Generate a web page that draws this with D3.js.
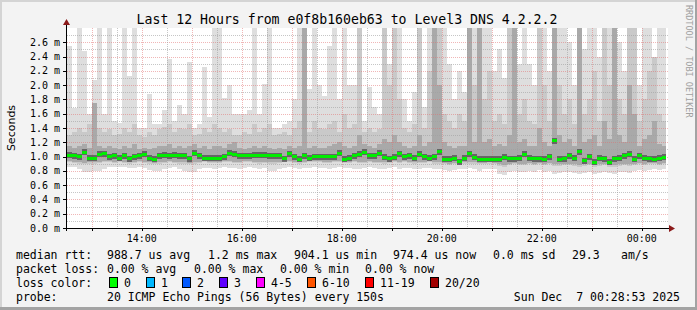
<!DOCTYPE html>
<html><head><meta charset="utf-8">
<script src="https://cdn.jsdelivr.net/npm/d3@7"></script>
<style>html,body{margin:0;padding:0;background:#f3f3f3;}svg{display:block;}</style>
</head><body><svg id="c" width="697" height="310"></svg>
<script>
const titleText = "Last 12 Hours from e0f8b160eb63 to Level3 DNS 4.2.2.2";
const yLabel = "Seconds";
const credit = "RRDTOOL / TOBI OETIKER";
const slotMinutes = 6;
const startTime = new Date(2025, 11, 6, 12, 30, 0);
const endTime = new Date(2025, 11, 7, 0, 30, 0);
const nowTime = new Date(2025, 11, 7, 0, 28, 53);

// median rtt (ms) per 6-minute slot
const med = [
1.02,1.01,1.00,1.06,0.98,0.98,1.03,1.04,1.00,1.01,
0.98,1.01,0.97,1.00,1.01,1.03,0.98,0.96,1.01,1.02,
1.01,1.02,1.01,1.01,0.97,1.05,1.01,0.98,0.98,0.98,
0.98,1.00,1.05,1.03,1.01,1.01,1.01,1.02,1.02,1.02,
1.01,1.01,1.01,0.97,1.04,1.00,0.96,1.01,0.98,1.00,
1.00,1.00,1.00,1.00,1.05,0.96,0.98,1.01,1.03,1.06,
1.01,1.01,1.05,0.99,0.97,0.99,1.04,1.00,1.01,0.98,
1.03,1.00,0.98,1.00,1.07,0.96,0.96,0.98,0.93,0.98,
1.04,0.99,0.96,0.96,0.96,0.96,0.96,0.99,0.97,0.97,
0.98,1.03,0.98,0.97,0.97,0.96,1.00,1.22,0.96,0.97,
1.01,0.98,1.07,0.94,1.00,0.92,0.98,0.97,0.92,0.97,
0.98,1.01,1.03,0.96,1.01,0.98,0.97,0.96,0.98,0.99];

// top of lightest smoke (max ping)
const maxv = [
2.55,1.68,2.80,2.48,1.60,2.07,2.80,1.60,2.80,1.50,
1.47,2.80,2.13,2.80,1.40,1.40,1.87,1.45,1.45,1.65,
2.37,1.50,1.72,1.60,2.32,1.40,1.45,2.25,1.55,2.80,
2.80,1.82,2.00,1.60,1.60,1.60,1.65,2.80,1.60,2.02,
2.80,1.40,1.40,1.45,1.50,1.80,2.80,2.80,1.95,2.80,
2.00,1.85,2.55,2.80,1.80,2.80,2.00,2.00,2.80,1.50,
1.97,1.70,1.60,2.20,2.30,2.80,2.80,1.80,1.50,1.90,
2.80,1.70,2.80,2.80,2.80,2.80,2.30,1.80,2.20,1.90,
2.80,2.80,2.80,2.80,2.80,2.20,2.50,2.10,2.80,2.80,
2.30,2.80,2.30,2.00,2.80,2.80,2.20,2.80,2.80,2.80,
2.60,2.00,2.80,2.50,2.80,2.80,2.40,2.80,2.80,2.80,
2.60,2.20,2.80,2.80,2.00,2.80,2.80,1.80,2.80,2.80];

// top of medium smoke
const midv = [
1.30,1.35,1.40,1.35,1.45,1.75,1.40,1.35,1.38,1.30,
1.32,1.40,1.35,1.45,1.30,1.28,1.35,1.30,1.38,1.42,
1.45,1.35,1.40,1.38,1.45,1.30,1.32,1.40,1.35,1.45,
1.40,1.35,1.38,1.30,1.30,1.35,1.32,1.45,1.35,1.40,
1.45,1.30,1.32,1.35,1.30,1.40,1.50,2.80,1.35,1.50,
1.40,1.38,1.45,1.50,1.35,1.60,1.40,1.45,2.80,1.35,
1.40,1.35,1.38,2.80,2.00,2.80,1.80,1.40,1.35,1.45,
2.80,1.40,2.20,2.80,2.80,1.60,1.50,1.40,1.60,1.50,
2.80,2.00,2.80,1.80,2.20,1.50,1.60,1.45,2.80,2.80,
1.60,1.80,1.50,1.45,2.80,2.00,1.50,2.80,2.00,1.60,
1.80,1.45,2.80,1.60,1.80,2.20,1.50,2.80,2.00,2.80,
1.80,1.60,2.80,2.80,1.50,1.80,2.20,2.40,1.60,1.50];

// top of dark smoke
const darkv = [
1.15,1.12,1.15,1.18,1.12,1.75,1.15,1.12,1.15,1.12,
1.10,1.15,1.12,1.18,1.10,1.12,1.10,1.12,1.15,1.15,
1.18,1.12,1.15,1.12,1.15,1.18,1.12,1.15,1.10,1.15,
1.15,1.12,1.18,1.20,1.12,1.10,1.12,1.15,1.12,1.15,
1.12,1.10,1.12,1.10,1.15,1.12,1.15,2.80,1.12,1.15,
1.12,1.12,1.15,1.18,1.20,1.15,1.12,1.15,1.30,1.18,
1.15,1.12,1.18,1.25,1.20,1.30,1.20,1.15,1.12,1.15,
1.30,1.15,1.20,2.80,2.00,1.20,1.15,1.12,1.15,1.15,
2.80,1.20,2.80,1.20,1.25,1.15,1.18,1.15,1.30,2.80,
1.20,1.25,1.15,1.15,1.40,1.20,1.15,2.80,1.30,1.20,
1.25,1.15,2.80,1.20,1.25,1.30,1.15,1.50,1.25,2.80,
1.30,1.20,2.00,1.60,1.15,1.25,1.30,1.50,1.18,1.15];

// bottom of lightest smoke (min ping)
const minv = [
0.86,0.85,0.82,0.79,0.79,0.80,0.80,0.83,0.85,0.85,
0.86,0.85,0.84,0.84,0.85,0.84,0.81,0.80,0.80,0.82,
0.84,0.85,0.83,0.80,0.79,0.79,0.82,0.84,0.84,0.83,
0.84,0.85,0.84,0.84,0.83,0.84,0.85,0.84,0.82,0.84,
0.80,0.80,0.83,0.84,0.85,0.84,0.83,0.84,0.84,0.85,
0.84,0.84,0.83,0.84,0.85,0.84,0.84,0.83,0.82,0.84,
0.85,0.84,0.82,0.82,0.84,0.85,0.83,0.84,0.84,0.82,
0.83,0.84,0.84,0.82,0.82,0.81,0.80,0.81,0.82,0.83,
0.84,0.82,0.80,0.82,0.83,0.82,0.76,0.74,0.78,0.80,
0.79,0.78,0.80,0.79,0.81,0.78,0.80,0.76,0.77,0.79,
0.78,0.77,0.76,0.77,0.78,0.76,0.77,0.78,0.77,0.76,
0.78,0.79,0.77,0.80,0.81,0.80,0.81,0.82,0.81,0.82];

// bottom of inner smoke
const lowv = [
0.92,0.91,0.90,0.89,0.90,0.90,0.91,0.92,0.92,0.91,
0.92,0.91,0.90,0.91,0.92,0.91,0.90,0.89,0.90,0.91,
0.92,0.91,0.90,0.90,0.89,0.90,0.91,0.92,0.91,0.91,
0.91,0.92,0.92,0.91,0.91,0.92,0.92,0.91,0.90,0.91,
0.90,0.90,0.91,0.92,0.92,0.91,0.90,0.91,0.92,0.92,
0.92,0.91,0.91,0.92,0.92,0.91,0.91,0.92,0.91,0.91,
0.92,0.91,0.91,0.90,0.91,0.92,0.91,0.92,0.91,0.90,
0.91,0.91,0.92,0.90,0.90,0.89,0.88,0.89,0.88,0.90,
0.90,0.90,0.89,0.89,0.90,0.89,0.87,0.86,0.88,0.89,
0.88,0.88,0.89,0.88,0.89,0.88,0.89,0.87,0.87,0.88,
0.88,0.87,0.86,0.87,0.88,0.86,0.87,0.88,0.86,0.86,
0.87,0.88,0.87,0.88,0.89,0.88,0.89,0.89,0.88,0.89];

const yTicks = [0.0,0.2,0.4,0.6,0.8,1.0,1.2,1.4,1.6,1.8,2.0,2.2,2.4,2.6];
const yTickLabels = ["0.0 m","0.2 m","0.4 m","0.6 m","0.8 m","1.0 m","1.2 m","1.4 m","1.6 m","1.8 m","2.0 m","2.2 m","2.4 m","2.6 m"];
const yMinor = [0.1,0.3,0.5,0.7,0.9,1.1,1.3,1.5,1.7,1.9,2.1,2.3,2.5,2.7];
const xTickLabels = ["14:00","16:00","18:00","20:00","22:00","00:00"];
const xTickTimes = [new Date(2025,11,6,14),new Date(2025,11,6,16),new Date(2025,11,6,18),new Date(2025,11,6,20),new Date(2025,11,6,22),new Date(2025,11,7,0)];

const rttHead = "median rtt:";
const rttItems = ["988.7 us avg","1.2 ms max","904.1 us min","974.4 us now","0.0 ms sd","29.3","am/s"];
const lossHead = "packet loss:";
const lossItems = ["0.00 % avg","0.00 % max","0.00 % min","0.00 % now"];
const colorHead = "loss color:";
const lossLabels = ["0","1","2","3","4-5","6-10","11-19","20/20"];
const lossColors = ["#00ff00","#00b8ff","#0059ff","#5e00ff","#ff00ff","#ff5500","#ff0000","#a10000"];
const probeHead = "probe:";
const probeText = "20 ICMP Echo Pings (56 Bytes) every 150s";
const dateText = "Sun Dec  7 00:28:53 2025";

const svg = d3.select("#c");
const W = 697, H = 310;
const L = 67, R = 668, T = 28, B = 228;
const mono = "'DejaVu Sans Mono', monospace";

svg.append("rect").attr("width", W).attr("height", H).attr("fill", "#f3f3f3");
svg.append("rect").attr("x",0).attr("y",0).attr("width",W).attr("height",2).attr("fill","#d4d4d4");
svg.append("rect").attr("x",0).attr("y",0).attr("width",2).attr("height",H).attr("fill","#d4d4d4");
svg.append("rect").attr("x",W-2).attr("y",0).attr("width",2).attr("height",H).attr("fill","#a3a3a3");
svg.append("rect").attr("x",0).attr("y",H-3).attr("width",W).attr("height",3).attr("fill","#a3a3a3");

const x = d3.scaleTime().domain([startTime, endTime]).range([66.7, 666.7]);
const y = d3.scaleLinear().domain([0, 2.8]).range([B, T]);

svg.append("rect").attr("x", L).attr("y", T).attr("width", R - L).attr("height", B - T).attr("fill", "#ffffff");

const slots = med.map((m, i) => {
  const t0 = d3.timeMinute.offset(startTime, i * slotMinutes);
  let t1 = d3.timeMinute.offset(startTime, (i + 1) * slotMinutes);
  if (t1 > nowTime) t1 = nowTime;
  return {i, t0, t1, med: m, max: maxv[i], mid: midv[i], dark: darkv[i], min: minv[i], low: lowv[i]};
});
const clampY = v => y(Math.min(v, 2.8));
const gSmoke = svg.append("g").attr("shape-rendering", "crispEdges");
function band(lo, hi, color) {
  gSmoke.append("g").selectAll("rect").data(slots).join("rect")
    .attr("x", d => x(d.t0))
    .attr("width", d => x(d.t1) - x(d.t0))
    .attr("y", d => clampY(hi(d)))
    .attr("height", d => Math.max(0, clampY(lo(d)) - clampY(hi(d))))
    .attr("fill", color);
}
band(d => d.min, d => d.max, "#dedede");
band(d => d.low, d => d.mid, "#c9c9c9");
band(d => d.low + 0.02, d => d.dark, "#a9a9a9");

// grid
const gGrid = svg.append("g");
const px = v => Math.round(v) + 0.5;
const minorCol = "rgba(160,160,160,0.6)";
const majorCol = "rgba(225,110,110,0.5)";
gGrid.selectAll("line.hm").data(yMinor).join("line")
  .attr("x1", L).attr("x2", R).attr("y1", d => px(y(d))).attr("y2", d => px(y(d)))
  .attr("stroke", minorCol).attr("stroke-dasharray", "1,1");
gGrid.selectAll("line.hM").data(yTicks.slice(1)).join("line")
  .attr("x1", L).attr("x2", R).attr("y1", d => px(y(d))).attr("y2", d => px(y(d)))
  .attr("stroke", majorCol).attr("stroke-dasharray", "1,1");
const halfHours = d3.timeMinute.every(30).range(d3.timeMinute.offset(startTime, 1), endTime);
gGrid.selectAll("line.v").data(halfHours).join("line")
  .attr("x1", d => px(x(d))).attr("x2", d => px(x(d))).attr("y1", T).attr("y2", B)
  .attr("stroke", d => d.getMinutes() === 0 ? majorCol : minorCol)
  .attr("stroke-dasharray", "1,1");

// median
const gMed = svg.append("g").attr("shape-rendering", "crispEdges");
gMed.selectAll("rect.h").data(slots).join("rect")
  .attr("x", d => x(d.t0)).attr("width", d => x(d.t1) - x(d.t0))
  .attr("y", d => y(d.med) - 3).attr("height", 6).attr("fill", "#4a4a4a").attr("opacity", 0.7);
gMed.selectAll("rect.g").data(slots).join("rect")
  .attr("x", d => x(d.t0)).attr("width", d => x(d.t1) - x(d.t0))
  .attr("y", d => y(d.med) - 1.5).attr("height", 3).attr("fill", "#00ee00");

// axes
const gAx = svg.append("g");
gAx.append("line").attr("x1", 63).attr("x2", 669).attr("y1", B + 0.5).attr("y2", B + 0.5).attr("stroke", "#000");
gAx.append("line").attr("x1", L - 0.5).attr("x2", L - 0.5).attr("y1", 24).attr("y2", B + 3).attr("stroke", "#000");
gAx.append("path").attr("d", `M669,${B-3}L675,${B+0.5}L669,${B+4}Z`).attr("fill", "#8b1a1a");
gAx.append("path").attr("d", `M${L-4},25L${L-0.5},19L${L+3},25Z`).attr("fill", "#8b1a1a");
gAx.selectAll("line.yt").data(yTicks.slice(1)).join("line")
  .attr("x1", L - 4).attr("x2", L).attr("y1", d => px(y(d))).attr("y2", d => px(y(d))).attr("stroke", "#000");
gAx.selectAll("line.xt").data(halfHours.filter(d => d.getMinutes() === 0)).join("line")
  .attr("x1", d => px(x(d))).attr("x2", d => px(x(d))).attr("y1", B).attr("y2", B + 3).attr("stroke", "#000");

gAx.selectAll("text.yl").data(yTicks).join("text")
  .attr("x", 60).attr("y", d => y(d) + 3.5).attr("text-anchor", "end")
  .attr("font-family", mono).attr("font-size", 10).attr("fill", "#000")
  .text((d, i) => yTickLabels[i]);
gAx.selectAll("text.xl").data(xTickTimes).join("text")
  .attr("x", d => x(d)).attr("y", 241.5).attr("text-anchor", "middle")
  .attr("font-family", mono).attr("font-size", 10).attr("fill", "#000")
  .text((d, i) => xTickLabels[i]);

svg.append("text").attr("x", 347).attr("y", 24).attr("text-anchor", "middle")
  .attr("font-family", mono).attr("font-size", 13.2).attr("fill", "#000").text(titleText);
svg.append("text").attr("transform", "translate(15,128) rotate(-90)").attr("text-anchor", "middle")
  .attr("font-family", "'DejaVu Sans', sans-serif").attr("font-size", 11).attr("fill", "#000").text(yLabel);
svg.append("text").attr("transform", "translate(686,5) rotate(90)").attr("text-anchor", "start")
  .attr("font-family", mono).attr("font-size", 8.5).attr("fill", "#a0a0a0").text(credit);

// legend
const lg = svg.append("g").attr("font-family", mono).attr("font-size", 11.5).attr("fill", "#000");
const T_ = (xp, yp, s) => lg.append("text").attr("xml:space", "preserve").attr("x", xp).attr("y", yp).text(s);
const row1 = [16,107,208,294,393,493,572,621];
const row2 = [16,107,194,280,365];
[rttHead].concat(rttItems).forEach((s, i) => T_(row1[i], 258.5, s));
[lossHead].concat(lossItems).forEach((s, i) => T_(row2[i], 272.5, s));
T_(16, 286.5, colorHead);
const boxX = [109,146,182,219,256,307,365,430];
lossLabels.forEach((s, i) => {
  lg.append("rect").attr("x", boxX[i] + 0.5).attr("y", 277.5).attr("width", 8).attr("height", 10)
    .attr("fill", lossColors[i]).attr("stroke", "#000").attr("stroke-width", 1);
  T_(boxX[i] + 15, 286.5, s);
});
T_(16, 300.5, probeHead);
T_(107, 300.5, probeText);
T_(680, 300.5, dateText).attr("text-anchor", "end");
</script></body></html>
